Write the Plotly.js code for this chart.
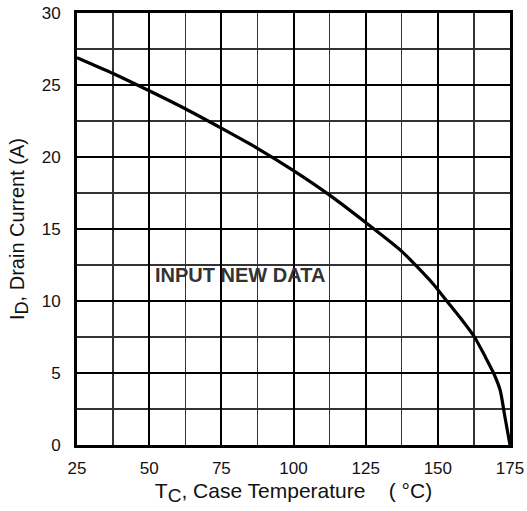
<!DOCTYPE html>
<html>
<head>
<meta charset="utf-8">
<script src="https://cdn.plot.ly/plotly-3.0.1.min.js"></script>
<style>html,body{margin:0;padding:0;background:#fff;}#chart{width:527px;height:511px;}</style>
</head>
<body>
<div id="chart"></div>
<script>
// Case temperature (°C)
const caseTemp = [25, 37.5, 50, 62.5, 75, 87.5, 100, 112.5, 125, 137.5, 148.3, 153.1, 158.1, 162.7, 166.5, 169.3, 171.6, 173.2, 175];
// Drain current (A)
const drainCurrent = [26.9, 25.8, 24.6, 23.35, 22.0, 20.6, 19.05, 17.35, 15.45, 13.45, 11.2, 10.0, 8.75, 7.5, 6.1, 5.0, 3.8, 2.0, 0];
const xTickVals = [25, 50, 75, 100, 125, 150, 175];
const yTickVals = [0, 5, 10, 15, 20, 25, 30];
const noteText = "INPUT NEW DATA";

const fontFam = "Liberation Sans, Arial, sans-serif";

const trace = {
  x: caseTemp,
  y: drainCurrent,
  type: "scatter",
  mode: "lines",
  line: {color: "#000", width: 3.2, shape: "spline", smoothing: 0.6},
  hoverinfo: "skip",
  cliponaxis: false
};

const layout = {
  width: 527,
  height: 511,
  margin: {l: 77, r: 17, t: 13, b: 66},
  paper_bgcolor: "#fff",
  plot_bgcolor: "#fff",
  showlegend: false,
  font: {family: fontFam, color: "#111", size: 17},
  xaxis: {
    range: [25, 175],
    tickvals: xTickVals,
    ticktext: xTickVals.map(String),
    ticks: "",
    ticklabelstandoff: 6,
    showgrid: true,
    gridcolor: "#000",
    gridwidth: 2,
    minor: {dtick: 12.5, tick0: 25, showgrid: true, gridcolor: "#333", gridwidth: 1.4},
    zeroline: false,
    showline: true,
    linecolor: "#000",
    linewidth: 3,
    mirror: true,
    tickfont: {size: 17, family: fontFam, color: "#111"},
    title: {text: "T<sub><span style=\"font-size:19px\">C</span></sub>, Case Temperature\u00a0\u00a0\u00a0\u00a0(\u00a0\u00b0C)", font: {size: 21, family: fontFam, color: "#111"}, standoff: 6}
  },
  yaxis: {
    range: [0, 30],
    tickvals: yTickVals,
    ticktext: yTickVals.map(String),
    ticks: "",
    ticklabelstandoff: 10,
    showgrid: true,
    gridcolor: "#000",
    gridwidth: 2,
    minor: {dtick: 2.5, tick0: 0, showgrid: true, gridcolor: "#333", gridwidth: 1.4},
    zeroline: false,
    showline: true,
    linecolor: "#000",
    linewidth: 3,
    mirror: true,
    tickfont: {size: 17, family: fontFam, color: "#111"},
    title: {text: "I<sub><span style=\"font-size:18px\">D</span></sub>, Drain Current (A)", font: {size: 20, family: fontFam, color: "#111"}, standoff: 12}
  },
  annotations: [{
    x: 81.5, y: 11.8, xref: "x", yref: "y",
    text: "<b>" + noteText + "</b>",
    showarrow: false,
    font: {size: 20, family: fontFam, color: "#333"}
  }]
};

Plotly.newPlot("chart", [trace], layout, {staticPlot: true, displayModeBar: false});
</script>
</body>
</html>
